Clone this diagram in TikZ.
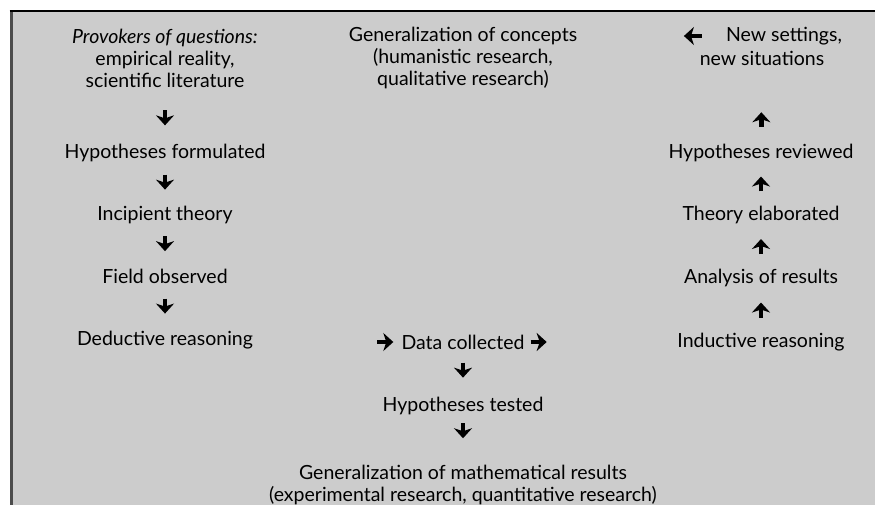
\documentclass[tikz,border=0pt]{standalone}
\usepackage{fontspec}
\setmainfont{Lato}
\usetikzlibrary{arrows.meta,calc}

\definecolor{panelgray}{RGB}{204,204,204}

\tikzset{
  step text/.style={font=\fontsize{19.5}{22}\selectfont, align=center, inner sep=0pt},
  fat arrow/.style={line width=4.4pt, -{Stealth[length=10pt,width=18pt,inset=3pt]}},
}

\begin{document}
\begin{tikzpicture}[x=1pt,y=-1pt]
\useasboundingbox (0,0) rectangle (875,505);

% panel
\fill[panelgray] (10,11) rectangle (875,505);
\draw[black!70,line width=3pt] (11,505) -- (11,11);
\draw[black,line width=1.2pt] (9.5,11) -- (875,11);

% deductive side
\node[step text] (src) at (165,58)
  {\textit{Provokers of questions:}\\empirical reality,\\scientific literature};
\node[step text] (hform) at (165,153) {Hypotheses formulated};
\node[step text] (incip) at (165,215) {Incipient theory};
\node[step text] (field) at (165,276) {Field observed};
\node[step text] (deduc) at (165,340) {Deductive reasoning};

% middle
\node[step text] (gconc) at (463,58)
  {Generalization of concepts\\(humanistic research,\\qualitative research)};
\node[step text] (data) at (463,342) {Data collected};
\node[step text] (htest) at (463,406) {Hypotheses tested};
\node[step text] (gmath) at (463,485)
  {Generalization of mathematical results\\(experimental research, quantitative research)};

% inductive side
\node[step text] (newset) at (784,36) {New settings,};
\node[step text] (newsit) at (762,58) {new situations};
\node[step text] (hrev) at (761,153) {Hypotheses reviewed};
\node[step text] (theory) at (761,215) {Theory elaborated};
\node[step text] (analys) at (761,278) {Analysis of results};
\node[step text] (induc) at (761,342) {Inductive reasoning};

% arrows down the left
\draw[fat arrow] ($(src)!.63!(hform)+(0,-7.5)$) -- +(0,15);
\foreach \a/\b in {hform/incip, incip/field, field/deduc}
  \draw[fat arrow] ($(\a)!.47!(\b)+(0,-7.5)$) -- +(0,15);

% arrows up the right
\draw[fat arrow] ($(newsit)!.65!(hrev)+(0,7.5)$) -- +(0,-15);
\foreach \a/\b in {theory/hrev, analys/theory, induc/analys}
  \draw[fat arrow] ($(\a)!.5!(\b)+(0,7.5)$) -- +(0,-15);
\draw[fat arrow] ($(newset.west)+(-24,0)$) -- +(-18,0);

% arrows through the middle
\draw[fat arrow] ($(data.west)+(-24,0)$) -- +(16,0);
\draw[fat arrow] ($(data.east)+(6,0)$) -- +(16,0);
\draw[fat arrow] ($(data)!.44!(htest)+(0,-7.5)$) -- +(0,15);
\draw[fat arrow] ($(htest)!.42!(gmath.north)+(0,-7.5)$) -- +(0,15);
\end{tikzpicture}
\end{document}
